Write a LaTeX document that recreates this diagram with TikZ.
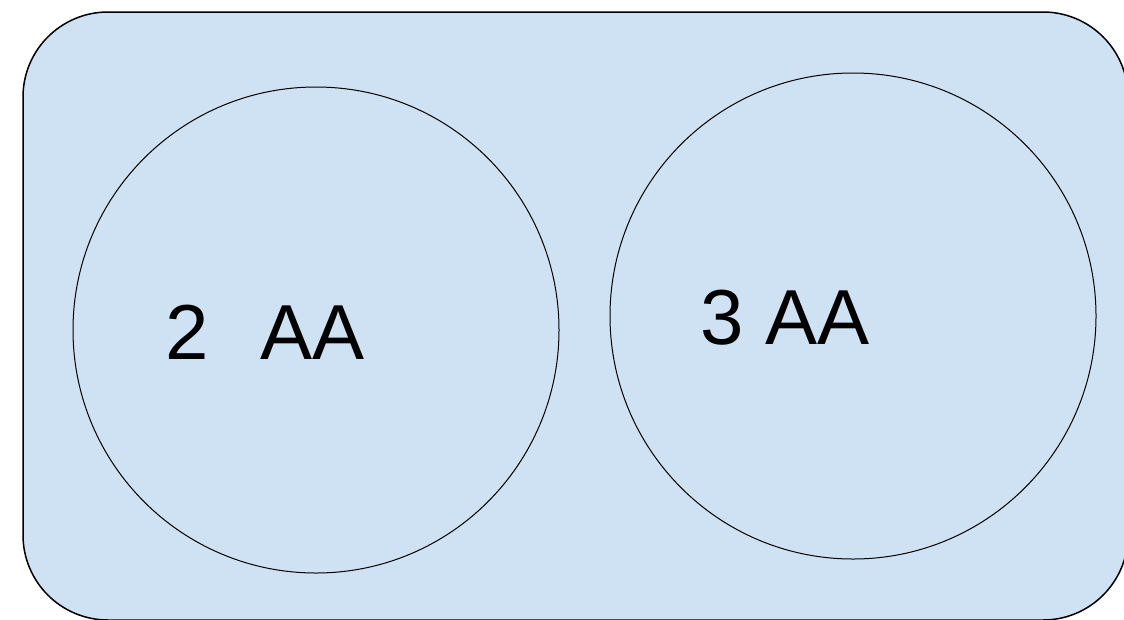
\documentclass[tikz,border=0pt]{standalone}
\usepackage{fontspec}
\setmainfont{Liberation Sans}
\definecolor{paleblue}{HTML}{CFE2F3}
\tikzset{
  ring/.style={draw=black, circle, minimum size=486pt, inner sep=0pt, line width=1pt},
  count/.style={anchor=base west, inner sep=0pt, font=\fontsize{78}{90}\selectfont}
}

\begin{document}
\begin{tikzpicture}[x=1pt,y=-1pt]
\useasboundingbox (0,0) rectangle (1124,619);
\begin{scope}
    \clip (0,0) rectangle (1124,619);
    \draw[fill=paleblue, line width=1.5pt, rounded corners=85pt] (23,12) rectangle (1128,620);
\end{scope}

\begin{scope}
    \node[ring] (L) at (316,330) {};
    \node[ring] (R) at (853,316) {};

    \node[count] (twoAA) at (165,359) {2\hspace{51.6pt}AA};
    \node[count] (threeAA) at (700,344) {3 AA};
\end{scope}
\end{tikzpicture}
\end{document}
